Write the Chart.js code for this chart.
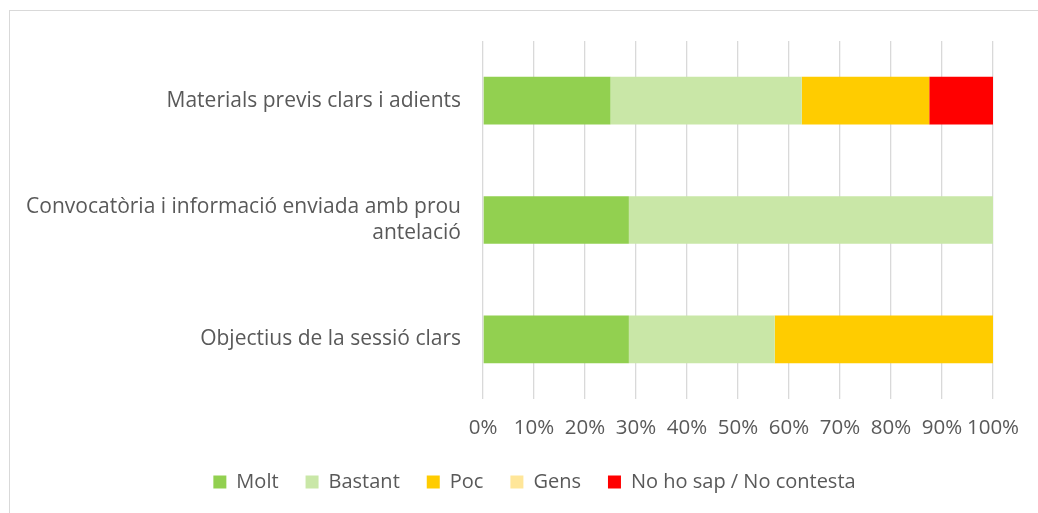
<!DOCTYPE html>
<html><head><meta charset="utf-8">
<script src="https://cdn.jsdelivr.net/npm/chart.js@4/dist/chart.umd.min.js"></script>
<style>
html,body{margin:0;padding:0;background:#fff;}
#wrap{position:relative;width:1038px;height:513px;}
#frame{position:absolute;left:9px;top:10px;width:1040px;height:520px;border:1px solid #d9d9d9;box-sizing:border-box;}
canvas{position:absolute;left:0;top:0;}
</style></head><body>
<div id="wrap"><div id="frame"></div><canvas id="c" width="1038" height="513"></canvas></div>
<script>
const categories = [["Materials previs clars i adients"], ["Convocatòria i informació enviada amb prou", "antelació"], ["Objectius de la sessió clars"]];
const seriesNames = ["Molt", "Bastant", "Poc", "Gens", "No ho sap / No contesta"];
const molt = [25, 28.6, 28.6];
const bastant = [37.5, 71.4, 28.6];
const poc = [25, 0, 42.8];
const gens = [0, 0, 0];
const nsnc = [12.5, 0, 0];
const colors = ["#92d050", "#c9e7a7", "#ffcc00", "#ffe699", "#ff0000"];
const xTicks = [0,10,20,30,40,50,60,70,80,90,100];

const values = [molt, bastant, poc, gens, nsnc];
const font = "'Open Sans', sans-serif";
const shiftLegend = {id:'shiftLegend', afterLayout(chart){ if(chart.legend){ chart.legend.left += 33; chart.legend.right += 33; } }};
new Chart(document.getElementById('c'), {
  type: 'bar',
  plugins:[shiftLegend],
  data: {
    labels: categories,
    datasets: seriesNames.map((n,i)=>({label:n, data:values[i], backgroundColor:colors[i], borderWidth:0, barPercentage:0.4, categoryPercentage:1}))
  },
  options: {
    indexAxis: 'y', responsive:false, animation:false,
    layout:{padding:{left:10,right:45,top:41,bottom:11}},
    plugins:{
      legend:{position:'bottom', labels:{boxWidth:13, boxHeight:13, padding:27, color:'#595959', font:{family:font,size:20}}},
      tooltip:{enabled:false}
    },
    scales:{
      x:{stacked:true, min:0, max:100,
        afterBuildTicks:(s)=>{s.ticks = xTicks.map(v=>({value:v}));},
        afterFit:(s)=>{s.height = 46;},
        grid:{color:'#d9d9d9', lineWidth:1.3, drawTicks:false},
        border:{display:false},
        ticks:{padding:17, color:'#595959', font:{family:font,size:20.5}, callback:(v)=>v+'%', maxRotation:0, autoSkip:false}
      },
      y:{stacked:true,
        grid:{display:false}, border:{display:false},
        afterFit:(s)=>{s.width = 473;},
        ticks:{padding:14, color:'#595959', font:{family:font,size:21}}
      }
    }
  }
});
</script></body></html>
